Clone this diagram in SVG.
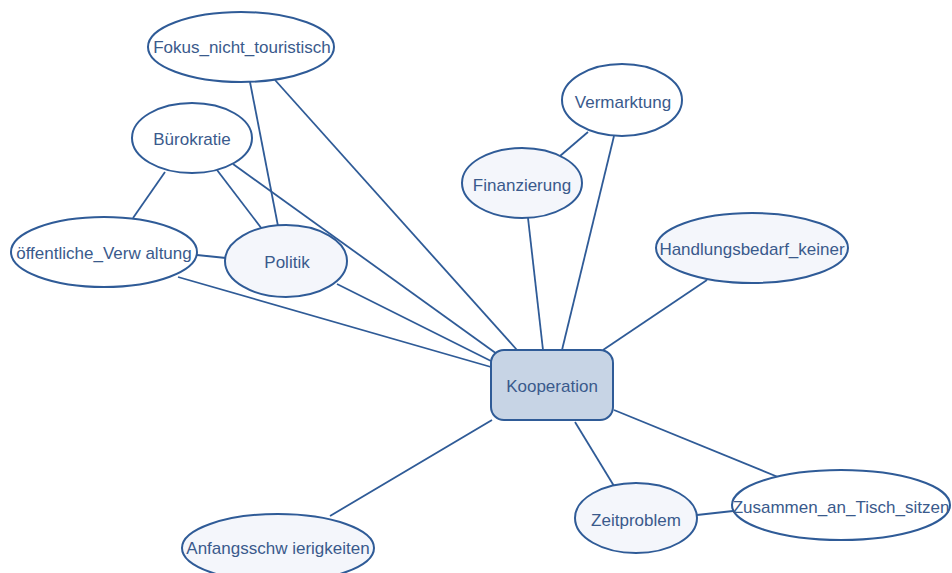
<svg xmlns="http://www.w3.org/2000/svg" width="952" height="573" viewBox="0 0 952 573">
<style>
.n{stroke:#2f5b97;stroke-width:2}
.w{fill:#ffffff}
.l{fill:#f4f6fb}
.k{fill:#c7d4e5}
.e line{stroke:#2f5b97;stroke-width:1.8}
text{font-family:"Liberation Sans",Arial,sans-serif;font-size:17px;fill:#3a5a8c;text-anchor:middle;dominant-baseline:central}
</style>
<rect width="952" height="573" fill="#ffffff"/>
<g id="edges" class="e">
<line x1="250" y1="82" x2="278" y2="226"/>
<line x1="275" y1="80" x2="517" y2="350"/>
<line x1="165" y1="172" x2="133" y2="218"/>
<line x1="217" y1="170" x2="262" y2="229"/>
<line x1="233" y1="164" x2="497" y2="354"/>
<line x1="197" y1="255" x2="226" y2="258"/>
<line x1="178" y1="277" x2="491" y2="367"/>
<line x1="337" y1="284" x2="493" y2="362"/>
<line x1="528" y1="218" x2="543" y2="350"/>
<line x1="588" y1="132" x2="560" y2="156"/>
<line x1="614" y1="136" x2="562" y2="350"/>
<line x1="707" y1="280" x2="603" y2="350"/>
<line x1="492" y1="420" x2="330" y2="516"/>
<line x1="575" y1="422" x2="614" y2="486"/>
<line x1="614" y1="410" x2="778" y2="477"/>
<line x1="697" y1="515" x2="733" y2="511"/>
</g>
<g id="fokus"><ellipse class="n w" cx="241" cy="47" rx="93" ry="35"/><text x="242" y="47">Fokus_nicht_touristisch</text></g>
<g id="buerokratie"><ellipse class="n w" cx="192" cy="138" rx="60" ry="35"/><text x="192" y="139">Bürokratie</text></g>
<g id="verwaltung"><ellipse class="n w" cx="104" cy="252" rx="93" ry="35"/><text x="104" y="253">öffentliche_Verw altung</text></g>
<g id="politik"><ellipse class="n l" cx="286" cy="261" rx="61" ry="36"/><text x="287" y="262">Politik</text></g>
<g id="vermarktung"><ellipse class="n w" cx="622" cy="100" rx="60" ry="36"/><text x="623" y="102">Vermarktung</text></g>
<g id="finanzierung"><ellipse class="n l" cx="522" cy="183" rx="60" ry="35"/><text x="522" y="185">Finanzierung</text></g>
<g id="handlungsbedarf"><ellipse class="n l" cx="752" cy="248" rx="96" ry="35"/><text x="752" y="249">Handlungsbedarf_keiner</text></g>
<g id="kooperation"><rect class="n k" x="491" y="350" width="122" height="70" rx="13"/><text x="552" y="386">Kooperation</text></g>
<g id="anfang"><ellipse class="n l" cx="278" cy="548" rx="96" ry="34"/><text x="278" y="548">Anfangsschw ierigkeiten</text></g>
<g id="zeitproblem"><ellipse class="n l" cx="636" cy="518" rx="61" ry="35"/><text x="636" y="520">Zeitproblem</text></g>
<g id="zusammen"><ellipse class="n w" cx="841" cy="505" rx="109" ry="35"/><text x="841" y="507">Zusammen_an_Tisch_sitzen</text></g>
</svg>
